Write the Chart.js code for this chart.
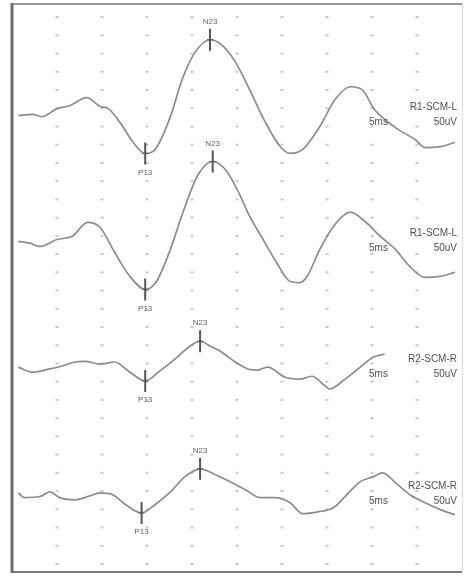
<!DOCTYPE html>
<html>
<head>
<meta charset="utf-8">
<script src="https://cdn.jsdelivr.net/npm/chart.js@4.4.1/dist/chart.umd.min.js"></script>
<style>
  html, body { margin: 0; padding: 0; background: #fff; }
  #wrap { width: 467px; height: 577px; }
</style>
</head>
<body>
<div id="wrap"><canvas id="vemp"></canvas></div>
<script>
// time in ms, amplitude in uV relative to each trace baseline
const times1 = [0.7, 2.3, 3.3, 5.0, 6.4, 8.3, 9.8, 10.7, 12.0, 13.4, 14.8, 15.9, 17.6, 18.9, 20.3, 22.0, 23.3, 24.8, 26.4, 28.1, 29.8, 30.9, 32.3, 34.2, 35.9, 37.6, 38.9, 40.3, 42.6, 44.8, 45.9, 47.6, 49.2];
const trace1 = [0, 3, -3, 19, 27, 49, 25, 19, -19, -71, -104, -93, -3, 99, 172, 208, 194, 148, 71, -16, -85, -104, -93, -30, 44, 79, 71, 16, -33, -66, -88, -85, -74];

const times2 = [0.7, 2.0, 3.1, 5.0, 6.7, 8.4, 9.8, 11.4, 13.1, 14.8, 16.0, 17.6, 19.0, 20.7, 22.3, 23.7, 25.0, 26.4, 27.9, 29.4, 30.9, 32.0, 32.8, 34.2, 35.9, 37.6, 39.2, 40.9, 42.6, 44.2, 45.9, 47.6, 49.2];
const trace2 = [0, -5, -14, 5, 14, 52, 38, -30, -96, -132, -112, -22, 80, 184, 219, 197, 143, 69, 5, -58, -110, -113, -96, -22, 47, 80, 55, 14, -22, -69, -99, -96, -85];

const times3 = [0.7, 2.3, 4.2, 5.6, 7.0, 8.1, 9.8, 11.4, 13.1, 14.8, 16.4, 18.1, 19.8, 20.9, 22.0, 23.1, 24.8, 26.2, 27.3, 28.4, 30.3, 32.0, 33.3, 34.8, 35.3, 37.0, 38.7, 40.1, 41.4];
const trace3 = [0, -14, -5, 3, 14, 16, 8, 14, -14, -38, -11, 22, 58, 71, 58, 44, 14, -5, -8, 0, -27, -33, -25, -52, -60, -33, 0, 27, 36];

const times4 = [0.7, 1.4, 3.1, 4.2, 5.3, 7.0, 8.7, 9.8, 11.2, 12.6, 14.4, 15.9, 17.6, 19.2, 20.9, 22.6, 24.2, 25.9, 27.6, 29.2, 30.9, 32.3, 34.0, 35.7, 37.0, 38.7, 40.1, 41.2, 42.6, 44.2, 45.9, 47.6, 49.2];
const trace4 = [5, -8, -5, 8, -8, -14, -3, 5, 0, -27, -50, -27, 8, 49, 71, 55, 36, 14, -8, -8, -22, -52, -47, -36, -5, 36, 49, 60, 33, 0, -22, -41, -55];

const baselines = [1230, 885, 540, 190];
const channelNames = ["R1-SCM-L", "R1-SCM-L", "R2-SCM-R", "R2-SCM-R"];
const timeBase = "5ms";
const sensitivity = "50uV";

const p13Times = [14.8, 14.8, 14.8, 14.4];
const p13Values = [-104, -132, -38, -50];
const n23Times = [22.0, 22.3, 20.9, 20.9];
const n23Values = [208, 219, 71, 71];

const gridTimes = [5, 10, 15, 20, 25, 30, 35, 40, 45];

const allTimes = [times1, times2, times3, times4];
const allTraces = [trace1, trace2, trace3, trace4];

const datasets = allTraces.map((tr, i) => ({
    data: tr.map((v, j) => ({ x: allTimes[i][j], y: v + baselines[i] })),
    borderColor: "#8c8c8c",
    borderWidth: 1.7,
    pointRadius: 0,
    cubicInterpolationMode: "monotone",
    fill: false
}));

const vempPlugin = {
    id: "vempDecor",
    beforeDatasetsDraw(chart) {
        const { ctx, scales } = chart;
        ctx.save();
        // dotted grid
        ctx.fillStyle = "#c8c8c8";
        for (const t of gridTimes) {
            const px = scales.x.getPixelForValue(t);
            for (let lvl = 0; lvl <= 1500; lvl += 50) {
                const py = scales.y.getPixelForValue(lvl);
                ctx.fillRect(px - 1.5, py - 1, 3, 2);
            }
        }
        ctx.restore();
    },
    afterDatasetsDraw(chart) {
        const { ctx, chartArea, scales } = chart;
        ctx.save();

        // peak markers
        function marker(t, v, label, below) {
            const px = scales.x.getPixelForValue(t);
            const py = scales.y.getPixelForValue(v);
            ctx.strokeStyle = "#555";
            ctx.lineWidth = 2;
            ctx.beginPath();
            ctx.moveTo(px, py - 11);
            ctx.lineTo(px, py + 11);
            ctx.stroke();
            ctx.lineWidth = 1;
            ctx.beginPath();
            ctx.moveTo(px - 3, py);
            ctx.lineTo(px + 3, py);
            ctx.stroke();
            ctx.fillStyle = "#666";
            ctx.font = "8px 'Liberation Sans', Arial, sans-serif";
            ctx.textAlign = "center";
            ctx.textBaseline = "middle";
            ctx.fillText(label, px, below ? py + 19 : py - 18);
        }
        for (let i = 0; i < baselines.length; i++) {
            marker(p13Times[i], p13Values[i] + baselines[i], "P13", true);
            marker(n23Times[i], n23Values[i] + baselines[i], "N23", false);
        }

        // channel labels
        ctx.fillStyle = "#505050";
        ctx.font = "10px 'Liberation Sans', Arial, sans-serif";
        ctx.textBaseline = "middle";
        const right = chartArea.right - 5;
        for (let i = 0; i < baselines.length; i++) {
            const py = scales.y.getPixelForValue(baselines[i]);
            ctx.textAlign = "right";
            ctx.fillText(channelNames[i], right, py - 8);
            ctx.fillText(sensitivity, right, py + 7);
            ctx.textAlign = "left";
            ctx.fillText(timeBase, right - 88, py + 7);
        }

        // frame
        ctx.strokeStyle = "#dcdcdc";
        ctx.lineWidth = 1;
        ctx.beginPath();
        ctx.moveTo(chartArea.right + 0.5, chartArea.top);
        ctx.lineTo(chartArea.right + 0.5, chartArea.bottom);
        ctx.stroke();
        ctx.strokeStyle = "#9a9a9a";
        ctx.lineWidth = 2;
        ctx.beginPath();
        ctx.moveTo(chartArea.left, chartArea.top);
        ctx.lineTo(chartArea.right, chartArea.top);
        ctx.stroke();
        ctx.strokeStyle = "#7a7a7a";
        ctx.beginPath();
        ctx.moveTo(chartArea.left, chartArea.bottom);
        ctx.lineTo(chartArea.right, chartArea.bottom);
        ctx.stroke();
        ctx.strokeStyle = "#6e6e6e";
        ctx.lineWidth = 3;
        ctx.beginPath();
        ctx.moveTo(chartArea.left, chartArea.top - 1);
        ctx.lineTo(chartArea.left, chartArea.bottom + 1);
        ctx.stroke();
        ctx.restore();
    }
};

new Chart(document.getElementById("vemp"), {
    type: "line",
    data: { datasets: datasets },
    options: {
        responsive: true,
        maintainAspectRatio: false,
        animation: false,
        layout: { padding: { left: 12, right: 5, top: 4, bottom: 5 } },
        plugins: { legend: { display: false }, tooltip: { enabled: false } },
        scales: {
            x: { type: "linear", min: 0, max: 50, display: false },
            y: { type: "linear", min: -22, max: 1536, display: false }
        }
    },
    plugins: [vempPlugin]
});
</script>
</body>
</html>
